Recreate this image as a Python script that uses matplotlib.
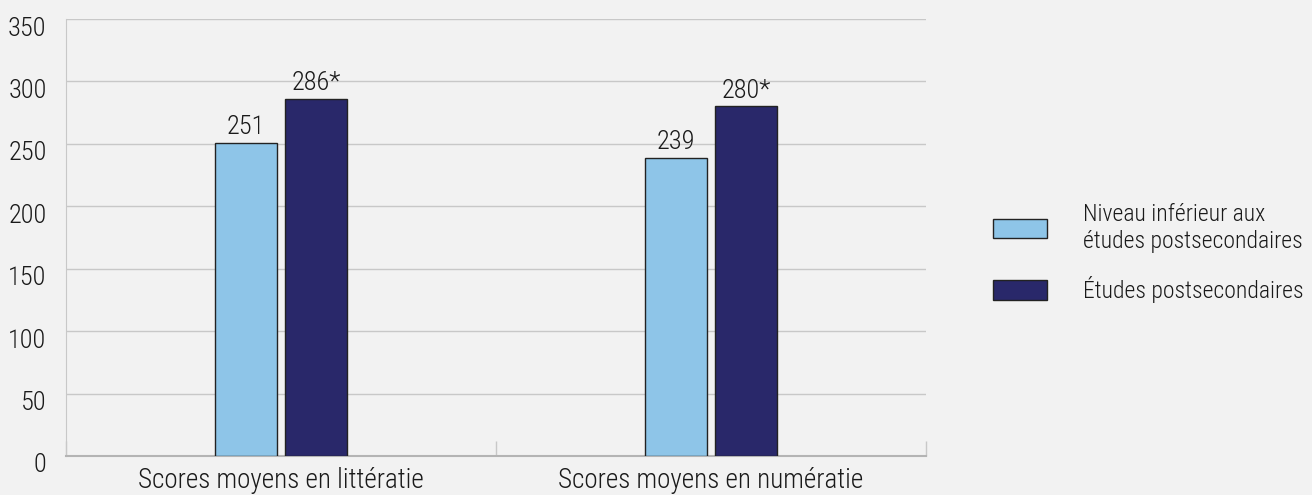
import matplotlib.pyplot as plt
import matplotlib.transforms as mtransforms
import numpy as np

plt.rcParams['font.family'] = ['Roboto Condensed', 'Liberation Sans', 'DejaVu Sans']
plt.rcParams['font.weight'] = 'light'

categories = ['Scores moyens en littératie', 'Scores moyens en numératie']
series_names = ['Niveau inférieur aux\nétudes postsecondaires', 'Études postsecondaires']
below_ps = [251, 239]
postsec = [286, 280]
below_labels = ['251', '239']
postsec_labels = ['286*', '280*']

BG = '#f2f2f2'
COLS = ['#8ec5e8', '#29286a']
TXT = '#1a1a1a'

fig = plt.figure(figsize=(13.12, 4.95), dpi=100, facecolor=BG)
ax = fig.add_axes([0.0503, 0.0788, 0.6555, 0.8828])
ax.set_facecolor(BG)

x = np.arange(len(categories))
w = 0.144
off = 0.0814

b1 = ax.bar(x - off, below_ps, w, color=COLS[0], edgecolor='#222222', linewidth=1, label=series_names[0], zorder=3)
b2 = ax.bar(x + off, postsec, w, color=COLS[1], edgecolor='#222222', linewidth=1, label=series_names[1], zorder=3)

for bars, labs in [(b1, below_labels), (b2, postsec_labels)]:
    for b, t in zip(bars, labs):
        ax.text(b.get_x() + b.get_width() / 2, b.get_height() + 3, t,
                ha='center', va='bottom', fontsize=19, color=TXT)

ax.set_xlim(-0.5, 1.5)
ax.set_ylim(0, 350)
ax.set_yticks(range(0, 351, 50))
ax.yaxis.grid(True, color='#c8c8c8', linewidth=1, zorder=0)
ax.set_xticks(x)
ax.set_xticklabels(categories, fontsize=19.5, color=TXT)
ax.set_xticks([-0.5, 0.5, 1.5], minor=True)
ax.tick_params(axis='x', which='major', length=0, pad=8)
ax.tick_params(axis='x', which='minor', direction='in', length=11, color='#c8c8c8', width=1)
ax.tick_params(axis='y', length=0, labelsize=19, labelcolor=TXT, pad=14)

# y labels sit a little below their gridlines in the original
shift = mtransforms.ScaledTranslation(0, -7 / 100, fig.dpi_scale_trans)
for lab in ax.get_yticklabels():
    lab.set_transform(lab.get_transform() + shift)

for s in ['top', 'right']:
    ax.spines[s].set_visible(False)
ax.spines['left'].set_color('#c8c8c8')
ax.spines['bottom'].set_color('#b4b4b4')
ax.spines['bottom'].set_linewidth(1.5)

leg = fig.legend(handles=[b1, b2], loc='upper left', bbox_to_anchor=(0.757, 0.59),
                 frameon=False, fontsize=17, handlelength=2.3, handleheight=0.9,
                 handletextpad=1.5, labelspacing=1.0, labelcolor=TXT,
                 borderaxespad=0, borderpad=0)

fig.savefig('out.png', dpi=100, facecolor=BG)
